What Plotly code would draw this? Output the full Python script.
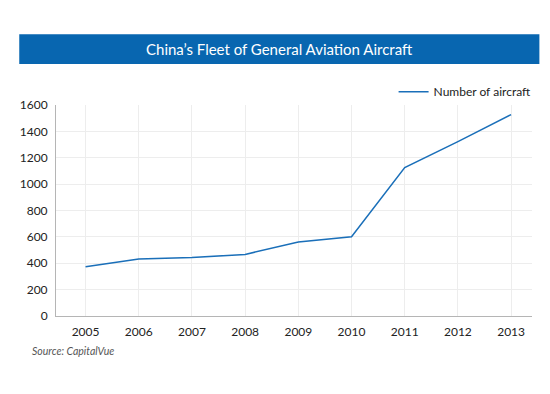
import plotly.graph_objects as go

years = [2005, 2006, 2007, 2008, 2009, 2010, 2011, 2012, 2013]
aircraft = [373, 433, 443, 467, 561, 601, 1126, 1322, 1527]
y_ticks = [0, 200, 400, 600, 800, 1000, 1200, 1400, 1600]
series_name = "Number of aircraft"
title_text = "China\u2019s Fleet of General Aviation Aircraft"
source_text = "Source: CapitalVue"

OFF = 8  # page body margin
W, H = 550 - OFF, 394 - OFF
L, R, T, B = 49.3 - OFF, 532.5 - OFF, 105.0 - OFF, 316.5 - OFF
pw, ph = R - L, B - T

def px(x):
    return (x - OFF - L) / pw

def py(y):
    return (B - (y - OFF)) / ph

FONT = "Lato"
BLUE = "#0866b0"

fig = go.Figure()
fig.add_trace(go.Scatter(
    x=years, y=aircraft, mode="lines", name=series_name,
    line=dict(color="#1a6fb9", width=1.5),
))

fig.update_layout(
    width=W, height=H, autosize=False,
    margin=dict(l=L, r=W - R, t=T, b=H - B, pad=0),
    paper_bgcolor="white", plot_bgcolor="white",
    font=dict(family=FONT, size=12, color="#222222"),
    showlegend=True,
    legend=dict(
        x=px(392), xanchor="left", y=py(91.7), yanchor="middle",
        orientation="h", bgcolor="rgba(0,0,0,0)", borderwidth=0,
        font=dict(family=FONT, size=12, color="#222222"),
        itemwidth=30,
    ),
    xaxis=dict(
        range=[2004.444, 2013.393], tickvals=years,
        ticktext=[str(y) for y in years],
        showgrid=True, gridcolor="#ededed", gridwidth=1,
        showline=True, linecolor="#b5b5b5", linewidth=1,
        ticks="", ticklabelstandoff=5, zeroline=False,
        tickfont=dict(family=FONT, size=12, color="#222222"),
    ),
    yaxis=dict(
        range=[0, 1600], tickvals=y_ticks,
        showgrid=True, gridcolor="#ededed", gridwidth=1,
        showline=True, linecolor="#b5b5b5", linewidth=1,
        ticks="", ticklabelstandoff=5, zeroline=False,
        tickfont=dict(family=FONT, size=12, color="#222222"),
    ),
    shapes=[dict(
        type="rect", xref="paper", yref="paper",
        x0=px(12), x1=px(540), y0=py(64), y1=py(34),
        fillcolor=BLUE, line=dict(width=0), layer="above",
    )],
    annotations=[
        dict(text=title_text, xref="paper", yref="paper",
             x=px(276), y=py(49), xanchor="center", yanchor="middle",
             showarrow=False, font=dict(family=FONT, size=15, color="white")),
        dict(text="<i>" + source_text + "</i>", xref="paper", yref="paper",
             x=px(22.5), y=py(351.7), xanchor="left", yanchor="middle",
             showarrow=False, font=dict(family=FONT, size=10.5, color="#555555")),
    ],
)

fig.write_html("out.html")
